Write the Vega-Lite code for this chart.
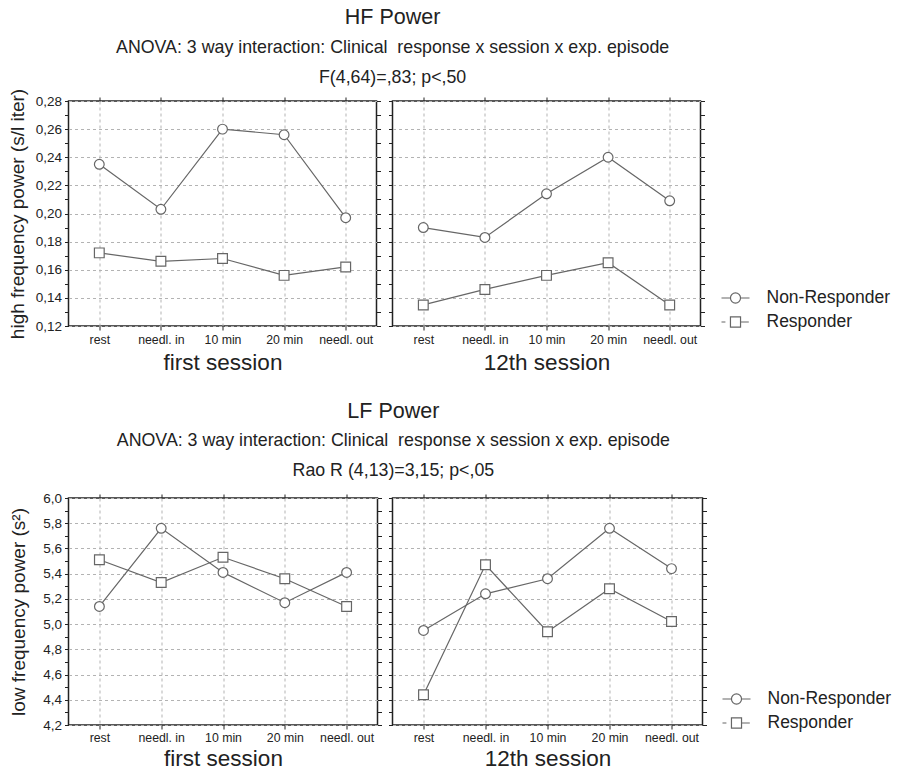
{
  "$schema": "https://vega.github.io/schema/vega-lite/v6.json",
  "padding": {"left": 7.5, "top": 7, "right": 5, "bottom": 0},
  "config": {
    "font": "Liberation Sans",
    "view": {"stroke": "#222", "strokeWidth": 1.5},
    "axis": {"domain": false, "tickColor": "#222", "tickSize": 4, "labelColor": "#222", "titleColor": "#222", "titleFontWeight": "normal", "gridColor": "#b3b3b3", "gridDash": [3, 3], "gridWidth": 1},
    "title": {"color": "#222", "subtitleColor": "#222", "fontWeight": "normal"}
  },
  "datasets": {
    "d": [
      {"param": "HF", "session": "first", "episode": "rest", "group": "Non-Responder", "value": 0.235},
      {"param": "HF", "session": "first", "episode": "needl. in", "group": "Non-Responder", "value": 0.203},
      {"param": "HF", "session": "first", "episode": "10 min", "group": "Non-Responder", "value": 0.260},
      {"param": "HF", "session": "first", "episode": "20 min", "group": "Non-Responder", "value": 0.256},
      {"param": "HF", "session": "first", "episode": "needl. out", "group": "Non-Responder", "value": 0.197},
      {"param": "HF", "session": "first", "episode": "rest", "group": "Responder", "value": 0.172},
      {"param": "HF", "session": "first", "episode": "needl. in", "group": "Responder", "value": 0.166},
      {"param": "HF", "session": "first", "episode": "10 min", "group": "Responder", "value": 0.168},
      {"param": "HF", "session": "first", "episode": "20 min", "group": "Responder", "value": 0.156},
      {"param": "HF", "session": "first", "episode": "needl. out", "group": "Responder", "value": 0.162},
      {"param": "HF", "session": "12th", "episode": "rest", "group": "Non-Responder", "value": 0.190},
      {"param": "HF", "session": "12th", "episode": "needl. in", "group": "Non-Responder", "value": 0.183},
      {"param": "HF", "session": "12th", "episode": "10 min", "group": "Non-Responder", "value": 0.214},
      {"param": "HF", "session": "12th", "episode": "20 min", "group": "Non-Responder", "value": 0.240},
      {"param": "HF", "session": "12th", "episode": "needl. out", "group": "Non-Responder", "value": 0.209},
      {"param": "HF", "session": "12th", "episode": "rest", "group": "Responder", "value": 0.135},
      {"param": "HF", "session": "12th", "episode": "needl. in", "group": "Responder", "value": 0.146},
      {"param": "HF", "session": "12th", "episode": "10 min", "group": "Responder", "value": 0.156},
      {"param": "HF", "session": "12th", "episode": "20 min", "group": "Responder", "value": 0.165},
      {"param": "HF", "session": "12th", "episode": "needl. out", "group": "Responder", "value": 0.135},
      {"param": "LF", "session": "first", "episode": "rest", "group": "Non-Responder", "value": 5.14},
      {"param": "LF", "session": "first", "episode": "needl. in", "group": "Non-Responder", "value": 5.76},
      {"param": "LF", "session": "first", "episode": "10 min", "group": "Non-Responder", "value": 5.41},
      {"param": "LF", "session": "first", "episode": "20 min", "group": "Non-Responder", "value": 5.17},
      {"param": "LF", "session": "first", "episode": "needl. out", "group": "Non-Responder", "value": 5.41},
      {"param": "LF", "session": "first", "episode": "rest", "group": "Responder", "value": 5.51},
      {"param": "LF", "session": "first", "episode": "needl. in", "group": "Responder", "value": 5.33},
      {"param": "LF", "session": "first", "episode": "10 min", "group": "Responder", "value": 5.53},
      {"param": "LF", "session": "first", "episode": "20 min", "group": "Responder", "value": 5.36},
      {"param": "LF", "session": "first", "episode": "needl. out", "group": "Responder", "value": 5.14},
      {"param": "LF", "session": "12th", "episode": "rest", "group": "Non-Responder", "value": 4.95},
      {"param": "LF", "session": "12th", "episode": "needl. in", "group": "Non-Responder", "value": 5.24},
      {"param": "LF", "session": "12th", "episode": "10 min", "group": "Non-Responder", "value": 5.36},
      {"param": "LF", "session": "12th", "episode": "20 min", "group": "Non-Responder", "value": 5.76},
      {"param": "LF", "session": "12th", "episode": "needl. out", "group": "Non-Responder", "value": 5.44},
      {"param": "LF", "session": "12th", "episode": "rest", "group": "Responder", "value": 4.44},
      {"param": "LF", "session": "12th", "episode": "needl. in", "group": "Responder", "value": 5.47},
      {"param": "LF", "session": "12th", "episode": "10 min", "group": "Responder", "value": 4.94},
      {"param": "LF", "session": "12th", "episode": "20 min", "group": "Responder", "value": 5.28},
      {"param": "LF", "session": "12th", "episode": "needl. out", "group": "Responder", "value": 5.02}
    ]
  },
  "resolve": {"scale": {"shape": "independent"}, "legend": {"shape": "independent"}},
  "spacing": 25,
  "vconcat": [
    {
      "title": {"text": "HF Power", "subtitle": ["ANOVA: 3 way interaction: Clinical\u00a0 response x session x exp. episode", "F(4,64)=,83; p<,50"], "fontSize": 21.5, "subtitleFontSize": 17.8, "subtitleLineHeight": 30, "subtitlePadding": 10, "offset": 1, "anchor": "middle", "frame": "bounds", "dx": -57},
      "spacing": 16,
      "bounds": "flush",
      "resolve": {"scale": {"shape": "independent"}, "legend": {"shape": "independent"}},
      "hconcat": [
        {
          "width": 308, "height": 225,
          "data": {"name": "d"},
          "transform": [{"filter": "datum.param == 'HF' && datum.session == 'first'"}],
          "layer": [
            {"mark": {"type": "line", "color": "#666", "strokeWidth": 1.2},
             "encoding": {
               "x": {"field": "episode", "type": "ordinal", "scale": {"type": "point", "domain": ["rest", "needl. in", "10 min", "20 min", "needl. out"], "padding": 0.5}, "axis": {"title": "first session", "labelAngle": 0, "labelFontSize": 12.3, "labelPadding": 3, "titleFontSize": 22.5, "titlePadding": 6, "grid": true}},
               "y": {"field": "value", "type": "quantitative", "scale": {"domain": [0.12, 0.28], "nice": false, "zero": false}, "axis": {"title": "high frequency power (s/l iter)", "titleFontSize": 19, "titlePadding": 7.5, "values": [0.12, 0.13, 0.14, 0.15, 0.16, 0.17, 0.18, 0.19, 0.2, 0.21, 0.22, 0.23, 0.24, 0.25, 0.26, 0.27, 0.28], "labelOverlap": false, "labelFontSize": 13.5, "labelPadding": 3, "labelExpr": "round(datum.value*100)%2==0 ? replace(format(datum.value,'.2f'),'.',',') : ''", "gridOpacity": {"condition": {"test": "round(datum.value*100)%2==0", "value": 1}, "value": 0}}},
               "detail": {"field": "group"}
             }},
            {"mark": {"type": "point", "filled": true, "fill": "white", "stroke": "#666", "strokeWidth": 1.2, "size": 95, "opacity": 1},
             "encoding": {
               "x": {"field": "episode", "type": "ordinal", "axis": null},
               "y": {"field": "value", "type": "quantitative", "axis": null},
               "shape": {"field": "group", "type": "nominal", "scale": {"domain": ["Non-Responder", "Responder"], "range": ["circle", "square"]}, "legend": null}
             }},
            {"mark": {"type": "point", "opacity": 0},
             "encoding": {
               "x": {"field": "episode", "type": "ordinal", "axis": {"orient": "top", "labels": false, "title": null, "grid": false}},
               "y": {"field": "value", "type": "quantitative", "axis": {"orient": "right", "values": [0.12, 0.13, 0.14, 0.15, 0.16, 0.17, 0.18, 0.19, 0.2, 0.21, 0.22, 0.23, 0.24, 0.25, 0.26, 0.27, 0.28], "labels": false, "title": null, "grid": false}}
             }}
          ],
          "resolve": {"axis": {"x": "independent", "y": "independent"}}
        },
        {
          "width": 308, "height": 225,
          "data": {"name": "d"},
          "transform": [{"filter": "datum.param == 'HF' && datum.session == '12th'"}],
          "layer": [
            {"mark": {"type": "line", "color": "#666", "strokeWidth": 1.2},
             "encoding": {
               "x": {"field": "episode", "type": "ordinal", "scale": {"type": "point", "domain": ["rest", "needl. in", "10 min", "20 min", "needl. out"], "padding": 0.5}, "axis": {"title": "12th session", "labelAngle": 0, "labelFontSize": 12.3, "labelPadding": 3, "titleFontSize": 22.5, "titlePadding": 6, "grid": true}},
               "y": {"field": "value", "type": "quantitative", "scale": {"domain": [0.12, 0.28], "nice": false, "zero": false}, "axis": {"title": null, "labels": false, "values": [0.12, 0.13, 0.14, 0.15, 0.16, 0.17, 0.18, 0.19, 0.2, 0.21, 0.22, 0.23, 0.24, 0.25, 0.26, 0.27, 0.28], "gridOpacity": {"condition": {"test": "round(datum.value*100)%2==0", "value": 1}, "value": 0}}},
               "detail": {"field": "group"}
             }},
            {"mark": {"type": "point", "filled": true, "fill": "white", "stroke": "#666", "strokeWidth": 1.2, "size": 95, "opacity": 1},
             "encoding": {
               "x": {"field": "episode", "type": "ordinal", "axis": null},
               "y": {"field": "value", "type": "quantitative", "axis": null},
               "shape": {"field": "group", "type": "nominal", "scale": {"domain": ["Non-Responder", "Responder"], "range": ["circle", "square"]}, "legend": null}
             }},
            {"mark": {"type": "point", "opacity": 0},
             "encoding": {
               "x": {"field": "episode", "type": "ordinal", "axis": {"orient": "top", "labels": false, "title": null, "grid": false}},
               "y": {"field": "value", "type": "quantitative", "axis": {"orient": "right", "values": [0.12, 0.13, 0.14, 0.15, 0.16, 0.17, 0.18, 0.19, 0.2, 0.21, 0.22, 0.23, 0.24, 0.25, 0.26, 0.27, 0.28], "labels": false, "title": null, "grid": false}}
             }},
            {"mark": {"type": "point", "opacity": 0, "filled": false, "stroke": "#666", "strokeWidth": 1.2},
             "encoding": {
               "x": {"field": "episode", "type": "ordinal", "axis": null},
               "y": {"field": "value", "type": "quantitative", "axis": null},
               "shape": {"field": "group", "type": "nominal", "scale": {"domain": ["Non-Responder", "Responder"], "range": ["M-1,0L-0.36,0M0.36,0L1,0M0.36,0A0.36,0.36,0,1,1,-0.36,0A0.36,0.36,0,1,1,0.36,0", "M-1,0L-0.72,0M-0.36,-0.36L0.36,-0.36L0.36,0.36L-0.36,0.36ZM0.36,0L0.95,0"]},
                 "legend": {"orient": "none", "legendX": 328, "legendY": 182, "title": null, "padding": 0, "labelFontSize": 17.5, "labelColor": "#222", "labelOffset": 16, "symbolSize": 784, "rowPadding": -0.5, "symbolOpacity": 1, "symbolStrokeColor": "#666", "symbolFillColor": "white", "symbolStrokeWidth": 1.2}}
             }}
          ],
          "resolve": {"axis": {"x": "independent", "y": "independent"}, "scale": {"shape": "independent"}, "legend": {"shape": "independent"}}
        }
      ]
    },
    {
      "title": {"text": "LF Power", "subtitle": ["ANOVA: 3 way interaction: Clinical\u00a0 response x session x exp. episode", "Rao R (4,13)=3,15; p<,05"], "fontSize": 21.5, "subtitleFontSize": 17.8, "subtitleLineHeight": 30, "subtitlePadding": 10, "offset": 10, "anchor": "middle", "frame": "bounds", "dx": -57},
      "spacing": 15,
      "bounds": "flush",
      "resolve": {"scale": {"shape": "independent"}, "legend": {"shape": "independent"}},
      "hconcat": [
        {
          "width": 309, "height": 227,
          "data": {"name": "d"},
          "transform": [{"filter": "datum.param == 'LF' && datum.session == 'first'"}],
          "layer": [
            {"mark": {"type": "line", "color": "#666", "strokeWidth": 1.2},
             "encoding": {
               "x": {"field": "episode", "type": "ordinal", "scale": {"type": "point", "domain": ["rest", "needl. in", "10 min", "20 min", "needl. out"], "padding": 0.5}, "axis": {"title": "first session", "labelAngle": 0, "labelFontSize": 12.3, "labelPadding": 2, "titleFontSize": 22.5, "titlePadding": 4, "grid": true}},
               "y": {"field": "value", "type": "quantitative", "scale": {"domain": [4.2, 6.0], "nice": false, "zero": false}, "axis": {"title": "low frequency power (s²)", "titleFontSize": 19, "titlePadding": 14.5, "values": [4.2, 4.3, 4.4, 4.5, 4.6, 4.7, 4.8, 4.9, 5.0, 5.1, 5.2, 5.3, 5.4, 5.5, 5.6, 5.7, 5.8, 5.9, 6.0], "labelOverlap": false, "labelFontSize": 13.5, "labelPadding": 3, "labelExpr": "round(datum.value*10)%2==0 ? replace(format(datum.value,'.1f'),'.',',') : ''", "gridOpacity": {"condition": {"test": "round(datum.value*10)%2==0", "value": 1}, "value": 0}}},
               "detail": {"field": "group"}
             }},
            {"mark": {"type": "point", "filled": true, "fill": "white", "stroke": "#666", "strokeWidth": 1.2, "size": 95, "opacity": 1},
             "encoding": {
               "x": {"field": "episode", "type": "ordinal", "axis": null},
               "y": {"field": "value", "type": "quantitative", "axis": null},
               "shape": {"field": "group", "type": "nominal", "scale": {"domain": ["Non-Responder", "Responder"], "range": ["circle", "square"]}, "legend": null}
             }},
            {"mark": {"type": "point", "opacity": 0},
             "encoding": {
               "x": {"field": "episode", "type": "ordinal", "axis": {"orient": "top", "labels": false, "title": null, "grid": false}},
               "y": {"field": "value", "type": "quantitative", "axis": {"orient": "right", "values": [4.2, 4.3, 4.4, 4.5, 4.6, 4.7, 4.8, 4.9, 5.0, 5.1, 5.2, 5.3, 5.4, 5.5, 5.6, 5.7, 5.8, 5.9, 6.0], "labels": false, "title": null, "grid": false}}
             }}
          ],
          "resolve": {"axis": {"x": "independent", "y": "independent"}}
        },
        {
          "width": 310, "height": 227,
          "data": {"name": "d"},
          "transform": [{"filter": "datum.param == 'LF' && datum.session == '12th'"}],
          "layer": [
            {"mark": {"type": "line", "color": "#666", "strokeWidth": 1.2},
             "encoding": {
               "x": {"field": "episode", "type": "ordinal", "scale": {"type": "point", "domain": ["rest", "needl. in", "10 min", "20 min", "needl. out"], "padding": 0.5}, "axis": {"title": "12th session", "labelAngle": 0, "labelFontSize": 12.3, "labelPadding": 2, "titleFontSize": 22.5, "titlePadding": 4, "grid": true}},
               "y": {"field": "value", "type": "quantitative", "scale": {"domain": [4.2, 6.0], "nice": false, "zero": false}, "axis": {"title": null, "labels": false, "values": [4.2, 4.3, 4.4, 4.5, 4.6, 4.7, 4.8, 4.9, 5.0, 5.1, 5.2, 5.3, 5.4, 5.5, 5.6, 5.7, 5.8, 5.9, 6.0], "gridOpacity": {"condition": {"test": "round(datum.value*10)%2==0", "value": 1}, "value": 0}}},
               "detail": {"field": "group"}
             }},
            {"mark": {"type": "point", "filled": true, "fill": "white", "stroke": "#666", "strokeWidth": 1.2, "size": 95, "opacity": 1},
             "encoding": {
               "x": {"field": "episode", "type": "ordinal", "axis": null},
               "y": {"field": "value", "type": "quantitative", "axis": null},
               "shape": {"field": "group", "type": "nominal", "scale": {"domain": ["Non-Responder", "Responder"], "range": ["circle", "square"]}, "legend": null}
             }},
            {"mark": {"type": "point", "opacity": 0},
             "encoding": {
               "x": {"field": "episode", "type": "ordinal", "axis": {"orient": "top", "labels": false, "title": null, "grid": false}},
               "y": {"field": "value", "type": "quantitative", "axis": {"orient": "right", "values": [4.2, 4.3, 4.4, 4.5, 4.6, 4.7, 4.8, 4.9, 5.0, 5.1, 5.2, 5.3, 5.4, 5.5, 5.6, 5.7, 5.8, 5.9, 6.0], "labels": false, "title": null, "grid": false}}
             }},
            {"mark": {"type": "point", "opacity": 0, "filled": false, "stroke": "#666", "strokeWidth": 1.2},
             "encoding": {
               "x": {"field": "episode", "type": "ordinal", "axis": null},
               "y": {"field": "value", "type": "quantitative", "axis": null},
               "shape": {"field": "group", "type": "nominal", "scale": {"domain": ["Non-Responder", "Responder"], "range": ["M-1,0L-0.36,0M0.36,0L1,0M0.36,0A0.36,0.36,0,1,1,-0.36,0A0.36,0.36,0,1,1,0.36,0", "M-1,0L-0.72,0M-0.36,-0.36L0.36,-0.36L0.36,0.36L-0.36,0.36ZM0.36,0L0.95,0"]},
                 "legend": {"orient": "none", "legendX": 329, "legendY": 186, "title": null, "padding": 0, "labelFontSize": 17.5, "labelColor": "#222", "labelOffset": 16, "symbolSize": 784, "rowPadding": -0.5, "symbolOpacity": 1, "symbolStrokeColor": "#666", "symbolFillColor": "white", "symbolStrokeWidth": 1.2}}
             }}
          ],
          "resolve": {"axis": {"x": "independent", "y": "independent"}, "scale": {"shape": "independent"}, "legend": {"shape": "independent"}}
        }
      ]
    }
  ]
}
